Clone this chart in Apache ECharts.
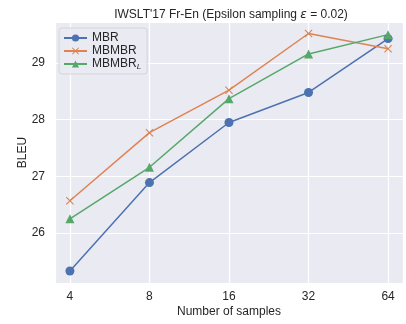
<!DOCTYPE html>
<html>
<head>
<meta charset="utf-8">
<script src="https://cdn.jsdelivr.net/npm/echarts@6/dist/echarts.min.js"></script>
<style>
  html, body { margin: 0; padding: 0; background: #fff; }
  #chart { width: 406px; height: 324px; }
</style>
</head>
<body>
<div id="chart"></div>
<script>
// sample counts on a log2 axis; x positions are the category index
const samples = ["4", "8", "16", "32", "64"];
const mbr = [25.33, 26.89, 27.95, 28.48, 29.43];
const mbmbr = [26.57, 27.77, 28.52, 29.52, 29.25];
const mbmbrL = [26.25, 27.16, 28.37, 29.16, 29.50];

const xMin = -0.1875, xMax = 4.1875;
const yMin = 25.118, yMax = 29.723;

const font = "Liberation Sans";
const textColor = "#262626";
const crossPath = "path://M0,1 L1,0 L5,4 L9,0 L10,1 L6,5 L10,9 L9,10 L5,6 L1,10 L0,9 L4,5 Z";

const toPts = vals => vals.map((v, i) => [i, v]);

const chart = echarts.init(document.getElementById("chart"), null, { renderer: "canvas" });

chart.setOption({
  animation: false,
  backgroundColor: "#ffffff",
  textStyle: { fontFamily: font, color: textColor },
  title: {
    text: "IWSLT'17 Fr-En (Epsilon sampling {i|ε} = 0.02)",
    left: 226,
    textAlign: "center",
    top: 4,
    textStyle: {
      fontFamily: font, fontSize: 12, fontWeight: "normal", color: textColor,
      rich: { i: { fontFamily: "DejaVu Sans", fontSize: 12, fontStyle: "italic", color: textColor } }
    }
  },
  legend: {
    orient: "vertical",
    left: 59,
    top: 28,
    padding: [4, 6, 3, 4],
    itemWidth: 23,
    itemHeight: 9,
    itemGap: 1,
    backgroundColor: "rgba(234,234,242,0.8)",
    borderColor: "#d4d4da",
    borderWidth: 1,
    borderRadius: 3,
    data: ["MBR", "MBMBR", "MBMBR_L"],
    formatter: name => name === "MBMBR_L" ? "MBMBR{sub|L}" : name,
    textStyle: {
      fontFamily: font, fontSize: 12, color: textColor,
      rich: { sub: { fontFamily: font, fontSize: 8, fontStyle: "italic", verticalAlign: "bottom", padding: [6, 0, 0, 0], color: textColor } }
    }
  },
  grid: { left: 55, right: 1, top: 22, bottom: 41, show: true, backgroundColor: "#eaeaf2", borderWidth: 0 },
  xAxis: {
    type: "value",
    min: xMin,
    max: xMax,
    name: "Number of samples",
    nameLocation: "middle",
    nameGap: 23,
    nameMoveOverlap: false,
    nameTextStyle: { fontFamily: font, fontSize: 12, color: textColor },
    axisLine: { show: false },
    axisTick: { show: false },
    axisLabel: {
      margin: 8,
      fontFamily: font, fontSize: 12, color: textColor,
      formatter: v => Number.isInteger(v) && samples[v] !== undefined ? samples[v] : ""
    },
    splitLine: { show: true, lineStyle: { color: "#ffffff", width: 1.2 } }
  },
  yAxis: {
    type: "value",
    min: yMin,
    max: yMax,
    name: "BLEU",
    nameLocation: "middle",
    nameGap: 26,
    nameMoveOverlap: false,
    nameTextStyle: { fontFamily: font, fontSize: 12, color: textColor },
    axisLine: { show: false },
    axisTick: { show: false },
    axisLabel: {
      margin: 10,
      fontFamily: font, fontSize: 12, color: textColor,
      formatter: v => Number.isInteger(v) ? String(v) : ""
    },
    splitLine: { show: true, lineStyle: { color: "#ffffff", width: 1.2 } }
  },
  series: [
    {
      name: "MBR",
      type: "line",
      data: toPts(mbr),
      symbol: "circle",
      symbolSize: 9,
      lineStyle: { color: "#4c72b0", width: 1.5 },
      itemStyle: { color: "#4c72b0" }
    },
    {
      name: "MBMBR",
      type: "line",
      data: toPts(mbmbr),
      symbol: crossPath,
      symbolSize: 8,
      lineStyle: { color: "#dd8452", width: 1.5 },
      itemStyle: { color: "#dd8452" }
    },
    {
      name: "MBMBR_L",
      type: "line",
      data: toPts(mbmbrL),
      symbol: "triangle",
      symbolSize: 9,
      lineStyle: { color: "#55a868", width: 1.5 },
      itemStyle: { color: "#55a868" }
    }
  ]
});
</script>
</body>
</html>
